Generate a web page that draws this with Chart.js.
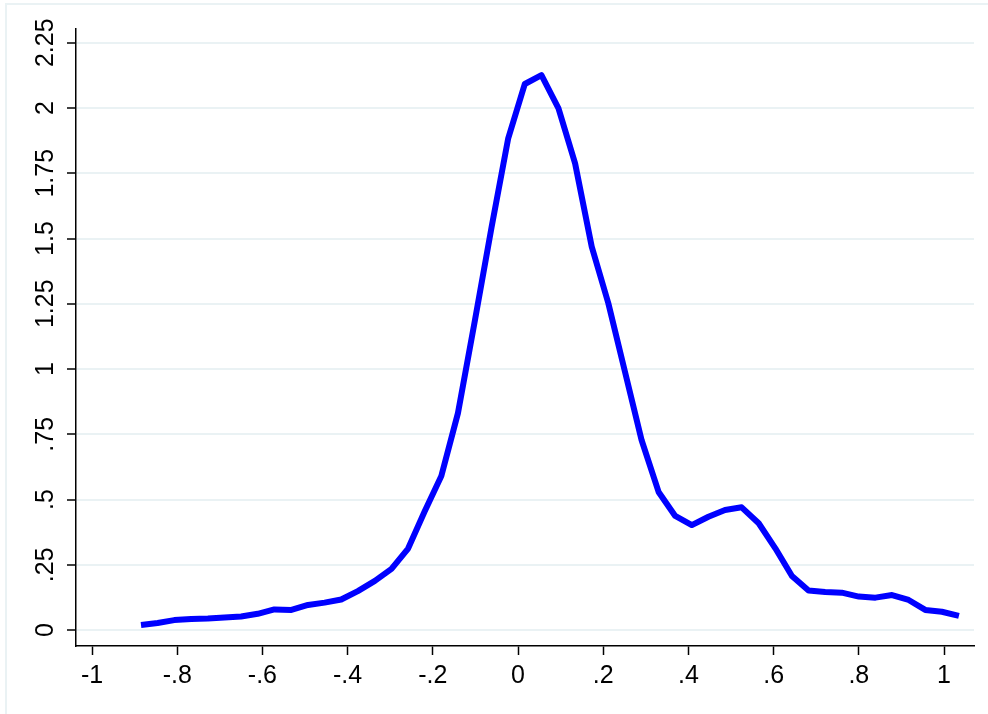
<!DOCTYPE html>
<html>
<head>
<meta charset="utf-8">
<script src="https://cdn.jsdelivr.net/npm/chart.js@4.4.1/dist/chart.umd.min.js"></script>
<style>
  html, body { margin: 0; padding: 0; background: #ffffff; }
  #wrap { position: relative; width: 988px; height: 714px; }
  canvas { display: block; }
</style>
</head>
<body>
<div id="wrap"><canvas id="c" width="988" height="714"></canvas></div>
<script>
// ---- data ----
const xValues = [
  -0.885, -0.846, -0.807, -0.767, -0.728, -0.689, -0.650, -0.611, -0.572, -0.532,
  -0.493, -0.454, -0.415, -0.376, -0.336, -0.297, -0.258, -0.219, -0.180, -0.141,
  -0.101, -0.062, -0.023, 0.016, 0.055, 0.095, 0.134, 0.173, 0.212, 0.251,
  0.290, 0.330, 0.369, 0.408, 0.447, 0.486, 0.525, 0.565, 0.604, 0.643,
  0.682, 0.721, 0.760, 0.800, 0.839, 0.878, 0.917, 0.956, 0.995, 1.035
];
const densityValues = [
  0.019, 0.027, 0.038, 0.042, 0.044, 0.048, 0.052, 0.062, 0.079, 0.077,
  0.096, 0.105, 0.117, 0.149, 0.188, 0.234, 0.312, 0.455, 0.590, 0.831,
  1.188, 1.544, 1.884, 2.092, 2.126, 1.999, 1.788, 1.469, 1.252, 0.990,
  0.728, 0.529, 0.437, 0.402, 0.434, 0.460, 0.470, 0.409, 0.313, 0.207,
  0.151, 0.146, 0.143, 0.128, 0.124, 0.134, 0.115, 0.077, 0.070, 0.054
];
const xTickValues = [-1, -0.8, -0.6, -0.4, -0.2, 0, 0.2, 0.4, 0.6, 0.8, 1];
const xTickLabels = ['-1', '-.8', '-.6', '-.4', '-.2', '0', '.2', '.4', '.6', '.8', '1'];
const yTickValues = [0, 0.25, 0.5, 0.75, 1, 1.25, 1.5, 1.75, 2, 2.25];
const yTickLabels = ['0', '.25', '.5', '.75', '1', '1.25', '1.5', '1.75', '2', '2.25'];

const FONT = { family: "'Liberation Sans', Arial, sans-serif", size: 25 };

const framePlugin = {
  id: 'frame',
  beforeDraw(chart) {
    const ctx = chart.ctx;
    ctx.save();
    ctx.strokeStyle = '#eaf2f4';
    ctx.lineWidth = 2;
    ctx.beginPath();
    ctx.moveTo(6, 714);
    ctx.lineTo(6, 4);
    ctx.lineTo(988, 4);
    ctx.stroke();
    ctx.restore();
  }
};

new Chart(document.getElementById('c'), {
  type: 'line',
  data: {
    datasets: [{
      data: xValues.map((x, i) => ({ x: x, y: densityValues[i] })),
      borderColor: '#0000ff',
      borderWidth: 6,
      pointRadius: 0,
      tension: 0,
      fill: false,
      borderJoinStyle: 'round',
      borderCapStyle: 'butt'
    }]
  },
  options: {
    responsive: false,
    animation: false,
    layout: { padding: { top: 29, right: 14, left: 0, bottom: 0 } },
    plugins: { legend: { display: false }, tooltip: { enabled: false } },
    scales: {
      x: {
        type: 'linear',
        min: -1.0376,
        max: 1.0704,
        afterBuildTicks: (s) => { s.ticks = xTickValues.map(v => ({ value: v })); },
        afterFit: (s) => { s.height = 68; },
        ticks: {
          callback: (v, i) => xTickLabels[i],
          font: FONT,
          color: '#000',
          padding: 6,
          maxRotation: 0,
          minRotation: 0,
          autoSkip: false
        },
        grid: {
          drawOnChartArea: false,
          drawTicks: true,
          tickLength: 9,
          tickColor: '#000',
          tickWidth: 1.5
        },
        border: { display: true, color: '#000', width: 1.5 }
      },
      y: {
        type: 'linear',
        min: -0.0613,
        max: 2.3027,
        afterBuildTicks: (s) => { s.ticks = yTickValues.map(v => ({ value: v })); },
        afterFit: (s) => { s.width = 76; },
        ticks: {
          callback: (v, i) => yTickLabels[i],
          font: FONT,
          color: '#000',
          padding: -3.5,
          minRotation: 90,
          maxRotation: 90,
          crossAlign: 'center',
          autoSkip: false
        },
        grid: {
          color: '#eaf2f4',
          lineWidth: 2,
          drawTicks: true,
          tickLength: 9,
          tickColor: '#000',
          tickWidth: 1.5
        },
        border: { display: true, color: '#000', width: 1.5 }
      }
    }
  },
  plugins: [framePlugin]
});
</script>
</body>
</html>
